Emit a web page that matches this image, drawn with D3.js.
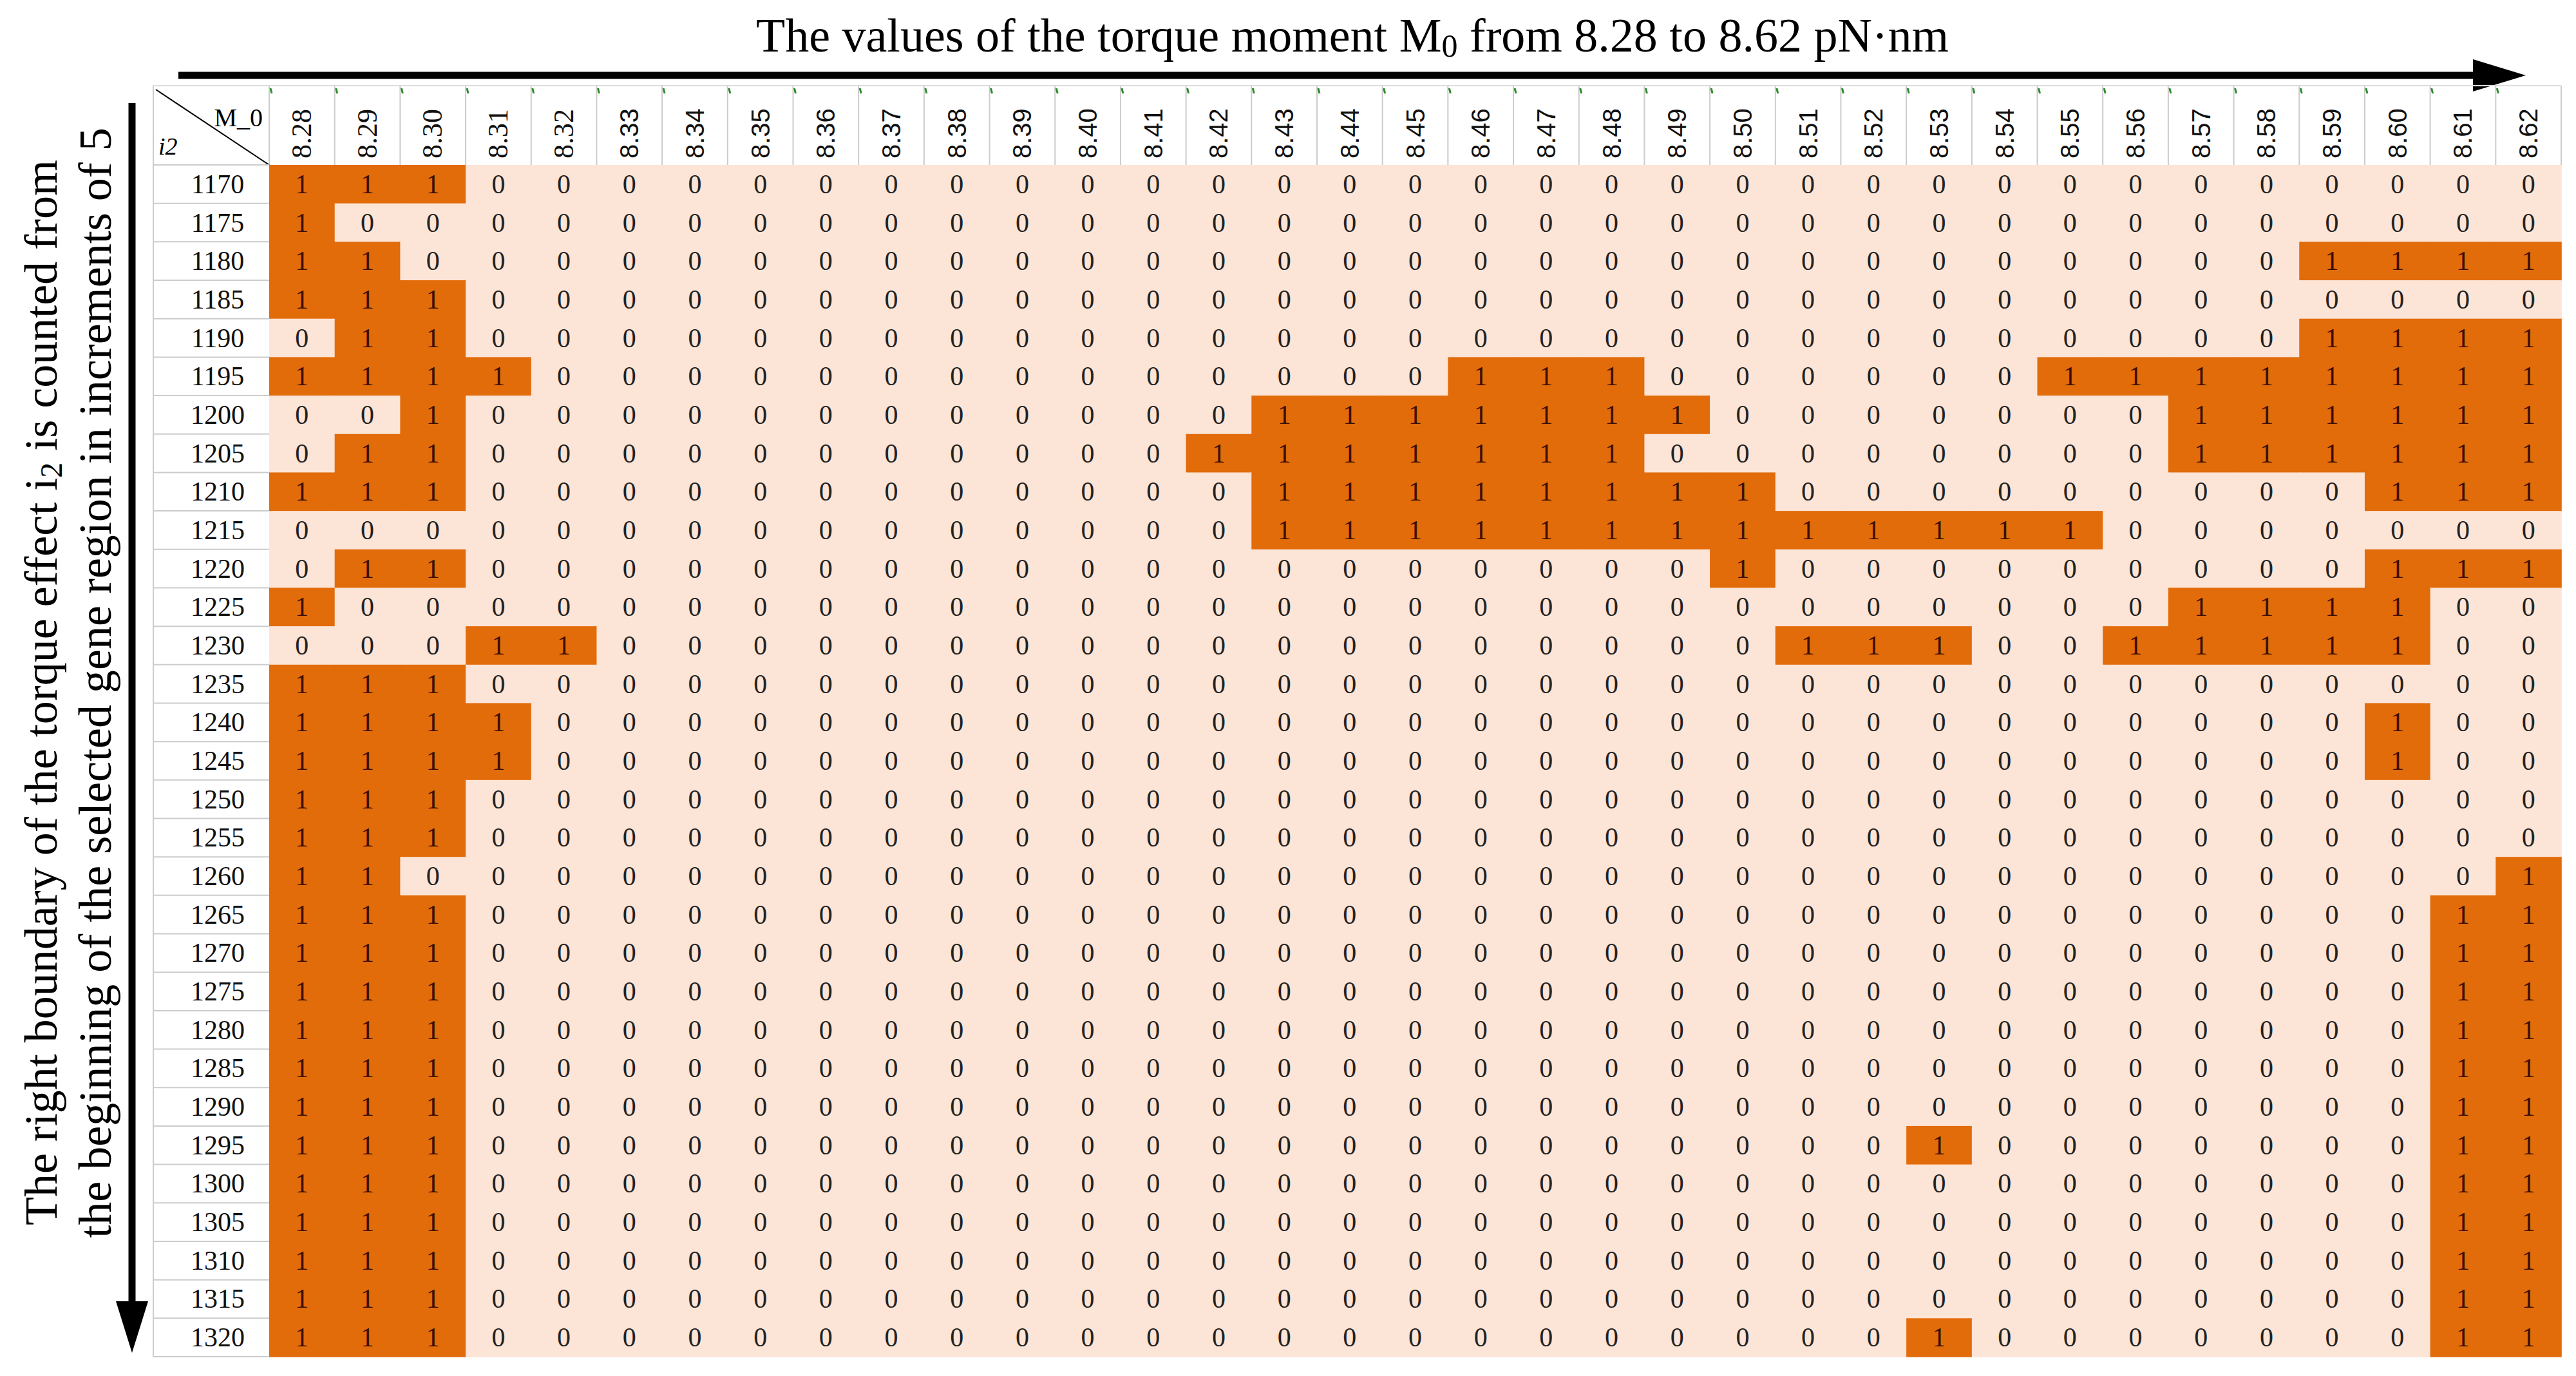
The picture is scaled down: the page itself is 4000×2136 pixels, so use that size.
<!DOCTYPE html>
<html><head><meta charset="utf-8">
<script src="https://cdn.jsdelivr.net/npm/d3@7"></script>
<style>body{margin:0;background:#fff}</style></head>
<body><svg id="c" width="4000" height="2136"></svg>
<script>
const moments = d3.range(28, 63).map(v => (8 + v/100).toFixed(2));
const rowsI2 = d3.range(1170, 1321, 5);
// columns (index into moments) that hold value 1, per row
const ones = [
  [0,1,2],
  [0],
  [0,1,31,32,33,34],
  [0,1,2],
  [1,2,31,32,33,34],
  [0,1,2,3,18,19,20,27,28,29,30,31,32,33,34],
  [2,15,16,17,18,19,20,21,29,30,31,32,33,34],
  [1,2,14,15,16,17,18,19,20,29,30,31,32,33,34],
  [0,1,2,15,16,17,18,19,20,21,22,32,33,34],
  [15,16,17,18,19,20,21,22,23,24,25,26,27],
  [1,2,22,32,33,34],
  [0,29,30,31,32],
  [3,4,23,24,25,28,29,30,31,32],
  [0,1,2],
  [0,1,2,3,32],
  [0,1,2,3,32],
  [0,1,2],
  [0,1,2],
  [0,1,34],
  [0,1,2,33,34],
  [0,1,2,33,34],
  [0,1,2,33,34],
  [0,1,2,33,34],
  [0,1,2,33,34],
  [0,1,2,33,34],
  [0,1,2,25,33,34],
  [0,1,2,33,34],
  [0,1,2,33,34],
  [0,1,2,33,34],
  [0,1,2,33,34],
  [0,1,2,25,33,34]
];
const cells = [];
rowsI2.forEach((r,i)=>moments.forEach((m,j)=>cells.push({r,m,v:ones[i].includes(j)?1:0})));

const svg = d3.select("#c");
const serif = "'Liberation Serif','DejaVu Serif',serif";
const sans = "'Liberation Sans',Arial,sans-serif";
const x = d3.scaleBand().domain(moments).range([418,3977]);
const y = d3.scaleBand().domain(rowsI2).range([256,2106]);
const headTop = 133, labL = 238;

// title
svg.append("text").attr("x",2100).attr("y",80).attr("text-anchor","middle")
  .attr("font-family",serif).attr("font-size",74).attr("fill","#000")
  .html('The values of the torque moment M<tspan font-size="50" dy="8">0</tspan><tspan dy="-8"> from 8.28 to 8.62 pN·nm</tspan>');
// top arrow
svg.append("line").attr("x1",277).attr("x2",3860).attr("y1",117).attr("y2",117).attr("stroke","#000").attr("stroke-width",11);
svg.append("path").attr("d","M3840,92 L3922,117 L3840,142 Z").attr("fill","#000");
// left arrow
svg.append("line").attr("x1",205).attr("x2",205).attr("y1",160).attr("y2",2040).attr("stroke","#000").attr("stroke-width",11);
svg.append("path").attr("d","M180,2020 L205,2100 L230,2020 Z").attr("fill","#000");
// left texts
const lt = svg.append("g").attr("font-family",serif).attr("font-size",72).attr("text-anchor","middle");
lt.append("text").attr("transform","translate(88,1075) rotate(-90)")
  .html('The right boundary of the  torque effect i<tspan font-size="48" dy="8">2</tspan><tspan dy="-8"> is counted from</tspan>');
lt.append("text").attr("transform","translate(172,1060) rotate(-90)")
  .text('the beginning of the selected gene region in increments of 5');

// header cells
svg.append("line").attr("x1",labL).attr("x2",3977).attr("y1",headTop).attr("y2",headTop).attr("stroke","#ddd").attr("stroke-width",2);
const hg = svg.append("g");
moments.forEach((m,j)=>{
  hg.append("line").attr("x1",x(m)).attr("x2",x(m)).attr("y1",headTop).attr("y2",256).attr("stroke","#ccc").attr("stroke-width",2);
  hg.append("line").attr("x1",x(m)+2).attr("x2",x(m)+4).attr("y1",headTop+4).attr("y2",headTop+12).attr("stroke","#2a8a2a").attr("stroke-width",3);
  hg.append("text").attr("transform",`translate(${x(m)+x.bandwidth()/2+14},${246}) rotate(-90)`)
    .attr("font-family", j<5?serif:sans).attr("font-size",j<5?44:40).attr("fill","#111").text(m);
});
svg.append("line").attr("x1",3977).attr("x2",3977).attr("y1",headTop).attr("y2",256).attr("stroke","#ccc").attr("stroke-width",2);
// corner
svg.append("line").attr("x1",labL+4).attr("y1",headTop+6).attr("x2",418).attr("y2",256).attr("stroke","#000").attr("stroke-width",2);
svg.append("text").attr("x",408).attr("y",196).attr("text-anchor","end").attr("font-family",serif).attr("font-size",40).text("M_0");
svg.append("text").attr("x",labL+8).attr("y",240).attr("font-family",serif).attr("font-style","italic").attr("font-size",38).text("i2");
svg.append("line").attr("x1",labL).attr("x2",labL).attr("y1",headTop).attr("y2",2106).attr("stroke","#ccc").attr("stroke-width",2);

// row labels
const rg = svg.append("g");
rowsI2.forEach(r=>{
  rg.append("line").attr("x1",labL).attr("x2",418).attr("y1",y(r)).attr("y2",y(r)).attr("stroke","#ccc").attr("stroke-width",2);
  rg.append("text").attr("x",(labL+418)/2+10).attr("y",y(r)+y.bandwidth()/2+14).attr("text-anchor","middle")
    .attr("font-family",serif).attr("font-size",42).attr("fill","#111").text(r);
});
rg.append("line").attr("x1",labL).attr("x2",418).attr("y1",2106).attr("y2",2106).attr("stroke","#ccc").attr("stroke-width",2);

// cells
const cg = svg.append("g");
cg.selectAll("rect").data(cells).join("rect")
  .attr("x",d=>x(d.m)).attr("y",d=>y(d.r)).attr("width",x.bandwidth()+0.8).attr("height",y.bandwidth()+0.8)
  .attr("fill",d=>d.v?"#E26B0A":"#FCE4D6");
cg.selectAll("text").data(cells).join("text")
  .attr("x",d=>x(d.m)+x.bandwidth()/2).attr("y",d=>y(d.r)+y.bandwidth()/2+14)
  .attr("text-anchor","middle").attr("font-family",serif).attr("font-size",42)
  .attr("fill",d=>d.v?"#3b0f00":"#222").text(d=>d.v);
</script></body></html>
